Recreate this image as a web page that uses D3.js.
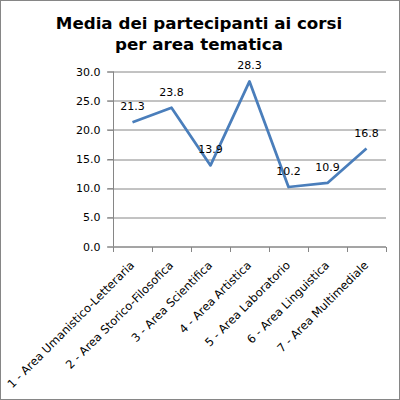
<!DOCTYPE html>
<html>
<head>
<meta charset="utf-8">
<script src="https://cdn.jsdelivr.net/npm/d3@7"></script>
<style>
  body { margin: 0; background: #fff; }
  text { font-family: "DejaVu Sans", Verdana, sans-serif; }
</style>
</head>
<body>
<div id="canvas"></div>
<script>
var categories = [
  '1 - Area Umanistico-Letteraria',
  '2 - Area Storico-Filosofica',
  '3 - Area Scientifica',
  '4 - Area Artistica',
  '5 - Area Laboratorio',
  '6 - Area Linguistica',
  '7 - Area Multimediale'
];
var values = [21.3, 23.8, 13.9, 28.3, 10.2, 10.9, 16.8];
var yTicks = [0, 5, 10, 15, 20, 25, 30];
var titleLines = ['Media dei partecipanti ai corsi', 'per area tematica'];

var W = 400, H = 400;
var m = {t: 71.5, r: 14, b: 153.5, l: 113};
var w = W - m.l - m.r, h = H - m.t - m.b;

var svg = d3.select('#canvas').append('svg')
  .attr('width', W).attr('height', H);

svg.append('rect')
  .attr('x', 0.5).attr('y', 0.5)
  .attr('width', W - 1).attr('height', H - 1)
  .attr('fill', '#fff').attr('stroke', '#868686');

svg.append('g').selectAll('text')
  .data(titleLines).enter().append('text')
  .attr('x', 199)
  .attr('y', function(d, i) { return 29 + i * 21; })
  .attr('text-anchor', 'middle')
  .style('font-size', '16.7px')
  .style('font-weight', 'bold')
  .text(function(d) { return d; });

var plot = svg.append('g')
  .attr('transform', 'translate(' + m.l + ',' + m.t + ')');

var x = d3.scaleBand().domain(categories).range([0, w]);
var y = d3.scaleLinear().domain([0, 30]).range([h, 0]);

// gridlines
plot.append('g').selectAll('line')
  .data(yTicks).enter().append('line')
  .attr('x1', -6).attr('x2', w)
  .attr('y1', function(d) { return Math.round(y(d)) + 0.5; })
  .attr('y2', function(d) { return Math.round(y(d)) + 0.5; })
  .attr('stroke', '#868686');

// y axis
var yAxis = plot.append('g')
  .attr('transform', 'translate(0.5,0)')
  .call(d3.axisLeft(y).tickValues(yTicks).tickSize(6).tickFormat(d3.format('.1f')));
yAxis.select('.domain').attr('stroke', '#868686').attr('d', 'M0,' + h + 'V0');
yAxis.selectAll('.tick line').attr('stroke', '#868686');
yAxis.selectAll('.tick text')
  .attr('x', -13)
  .style('font-size', '11px')
  .style('font-family', '"DejaVu Sans", Verdana, sans-serif')
  .attr('fill', '#000');

// x axis
var xTickPos = d3.range(categories.length + 1).map(function(i) { return i * x.bandwidth(); });
var xAxis = plot.append('g').attr('transform', 'translate(0,' + (Math.round(h) + 0.5) + ')');
xAxis.append('line').attr('x1', 0).attr('x2', w).attr('stroke', '#868686');
xAxis.selectAll('.xt').data(xTickPos).enter().append('line')
  .attr('class', 'xt')
  .attr('x1', function(d) { return Math.round(d) + 0.5; })
  .attr('x2', function(d) { return Math.round(d) + 0.5; })
  .attr('y1', 0).attr('y2', 5)
  .attr('stroke', '#868686');
xAxis.selectAll('text').data(categories).enter().append('text')
  .attr('transform', function(d) {
    return 'translate(' + (x(d) + x.bandwidth() / 2 + 2.5) + ',19) rotate(-45)';
  })
  .attr('text-anchor', 'end')
  .style('font-size', '11.5px')
  .text(function(d) { return d; });

// line
var line = d3.line()
  .x(function(d, i) { return x(categories[i]) + x.bandwidth() / 2; })
  .y(function(d) { return y(d); });

plot.append('path')
  .datum(values)
  .attr('d', line)
  .attr('fill', 'none')
  .attr('stroke', '#4a7ebb')
  .attr('stroke-width', 2.75)
  .attr('stroke-linejoin', 'round');

// data labels
plot.append('g').selectAll('text')
  .data(values).enter().append('text')
  .attr('x', function(d, i) { return x(categories[i]) + x.bandwidth() / 2; })
  .attr('y', function(d) { return y(d) - 12; })
  .attr('text-anchor', 'middle')
  .style('font-size', '11px')
  .text(function(d) { return d3.format('.1f')(d); });
</script>
</body>
</html>
